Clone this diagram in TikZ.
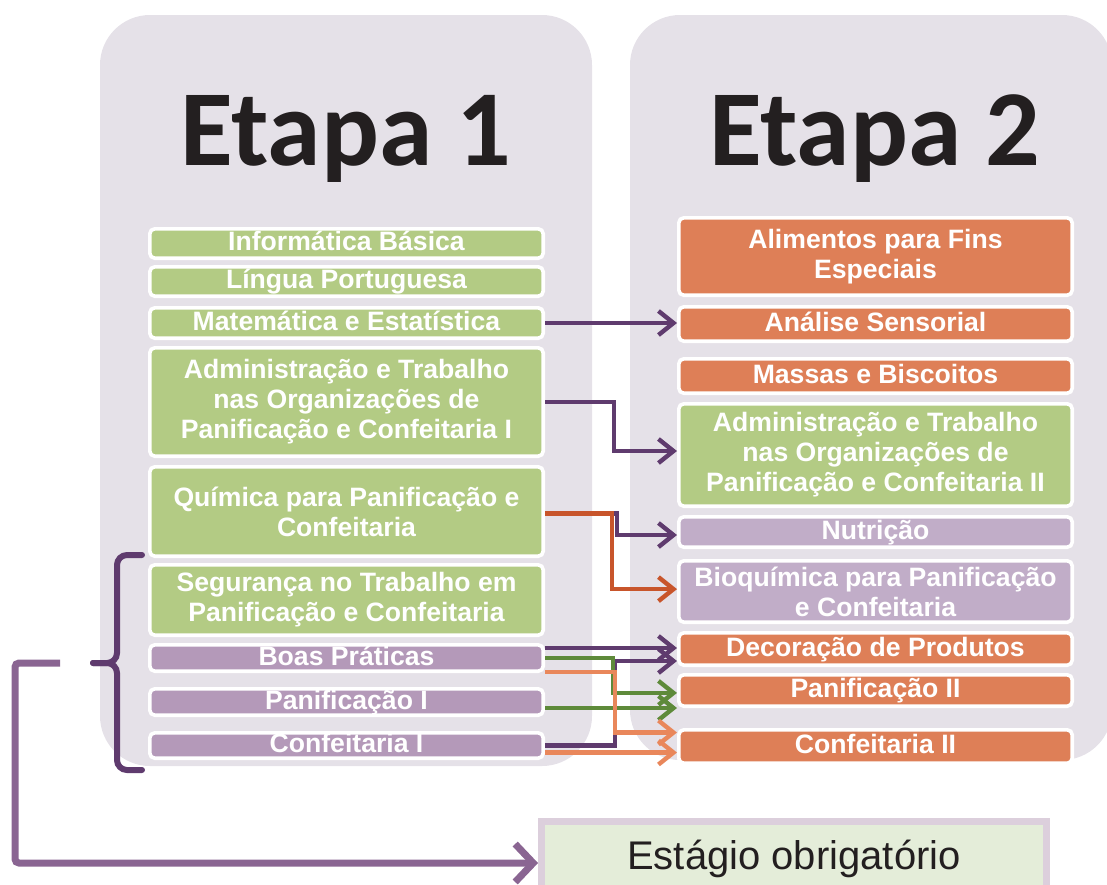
\documentclass[tikz,border=0pt]{standalone}
\usepackage{fontspec}
\setmainfont{Liberation Sans}
\newfontfamily\calfont{Carlito}
\usetikzlibrary{arrows.meta}
\definecolor{panel}{RGB}{229,225,232}
\definecolor{grn}{RGB}{179,203,132}
\definecolor{org}{RGB}{222,127,87}
\definecolor{vio}{RGB}{180,153,185}
\definecolor{lil}{RGB}{193,173,200}
\definecolor{dpur}{RGB}{95,59,110}
\definecolor{mpur}{RGB}{138,101,146}
\definecolor{dgrn}{RGB}{94,138,58}
\definecolor{dorg}{RGB}{200,85,43}
\definecolor{lorg}{RGB}{233,135,91}
\definecolor{ink}{RGB}{35,31,32}
\definecolor{estfill}{RGB}{228,237,217}
\definecolor{estdraw}{RGB}{220,207,220}

\begin{document}
\begin{tikzpicture}[
      x=0.5pt,y=-0.5pt,
      box/.style={rectangle,rounded corners=2.5pt,draw=white,line width=1.8pt,text=white,
        font=\fontsize{13.3}{15}\selectfont\bfseries,align=center,
        minimum width=196.7pt,inner xsep=2pt,inner ysep=0pt},
      G/.style={box,fill=grn},
      O/.style={box,fill=org},
      V/.style={box,fill=vio},
      L/.style={box,fill=lil},
      one/.style={text height=9.8pt,text depth=2.8pt},
      ttl/.style={font=\calfont\bfseries\fontsize{54}{60}\selectfont,text=ink,anchor=base},
      ap/.style={dpur,line width=2.2pt,-{Straight Barb[length=7.5pt,width=12pt]}},
      ag/.style={ap,dgrn},
      ao/.style={ap,lorg},
      ar/.style={ap,dorg},
      brc/.style={dpur,line width=3pt,rounded corners=5pt,line cap=round},
      ab/.style={mpur,line width=3.5pt,rounded corners=2pt,-{Straight Barb[length=9pt,width=19pt]}},
      est/.style={rectangle,draw=estdraw,fill=estfill,line width=3.5pt,text=ink,
        font=\fontsize{20}{24}\selectfont,minimum width=252.5pt,minimum height=41.5pt,
        text height=14pt,text depth=8pt}]
    \clip (0,0) rectangle (1107,884);
    \fill[panel,rounded corners=25pt] (100,15) rectangle (592,766);
    \fill[panel,rounded corners=25pt] (630,15) rectangle (1112,760);
    \node[ttl] (t1) at (346,165) {Etapa 1};
    \node[ttl] (t2) at (875,165) {Etapa 2};
    \node[G,one,minimum height=14.7pt] (ib) at (346.5,243.5) {Informática Básica};
    \node[G,one,minimum height=14.7pt] (lp) at (346.5,281.5) {Língua Portuguesa};
    \node[G,one,minimum height=15.2pt] (me) at (346.5,323) {Matemática e Estatística};
    \node[G,minimum height=54.2pt] (ad1) at (346.5,402) {Administração e Trabalho\\nas Organizações de\\Panificação e Confeitaria I};
    \node[G,minimum height=44.7pt] (qu) at (346.5,511.5) {Química para Panificação e\\Confeitaria};
    \node[G,minimum height=35.2pt] (se) at (346.5,600) {Segurança no Trabalho em\\Panificação e Confeitaria};
    \node[V,one,minimum height=13.2pt] (bp) at (346.5,658) {Boas Práticas};
    \node[V,one,minimum height=13.2pt] (pa1) at (346.5,702) {Panificação I};
    \node[V,one,minimum height=12.7pt] (co1) at (346.5,745.5) {Confeitaria I};
    \node[O,minimum height=38.7pt] (al) at (875.5,256.5) {Alimentos para Fins\\Especiais};
    \node[O,one,minimum height=17.2pt] (an) at (875.5,324) {Análise Sensorial};
    \node[O,one,minimum height=17.2pt] (mb) at (875.5,376) {Massas e Biscoitos};
    \node[G,minimum height=51.2pt] (ad2) at (875.5,455) {Administração e Trabalho\\nas Organizações de\\Panificação e Confeitaria II};
    \node[L,one,minimum height=15.2pt] (nu) at (875.5,532) {Nutrição};
    \node[L,minimum height=30.7pt] (bq) at (875.5,591.5) {Bioquímica para Panificação\\e Confeitaria};
    \node[O,one,minimum height=16.2pt] (de) at (875.5,649) {Decoração de Produtos};
    \node[O,one,minimum height=15.7pt] (pa2) at (875.5,690.5) {Panificação II};
    \node[O,one,minimum height=16.7pt] (co2) at (875.5,746.5) {Confeitaria II};
    \node[est] (es) at (794,863) {Estágio obrigatório};
    \draw[ap] (me.east) -- (me.east -| an.west);
    \draw[ap] (ad1.east) -- ++(69,0) |- ([yshift=2pt]ad2.west);
    \draw[ap] ([yshift=-1pt]qu.east) -- ++(72,0) |- ([yshift=-1.5pt]nu.west);
    \draw[ar] ([yshift=-1pt]qu.east) -- ++(67,0) |- ([yshift=1.2pt]bq.west);
    \draw[ap] ([yshift=5pt]bp.east) -- ([yshift=5pt]bp.east -| de.west);
    \draw[ap] (co1.east) -- ++(70,0) |- ([yshift=-6pt]de.west);
    \draw[ag] (bp.east) -- ++(68,0) |- ([yshift=-1.2pt]pa2.west);
    \draw[ag] ([yshift=-3pt]pa1.east) -- ([yshift=-3pt]pa1.east -| pa2.west);
    \draw[ao] ([yshift=-7pt]bp.east) -- ++(70,0) |- ([yshift=7pt]co2.west);
    \draw[ao] ([yshift=-3.5pt]co1.east) -- ([yshift=-3.5pt]co1.east -| co2.west);
    \draw[brc] (142,555) -- (117,555) -- (117,663) -- (93,663);
    \draw[brc] (93,663) -- (117,663) -- (117,770) -- (142,770);
    \coordinate (bk) at (60,663);
    \draw[ab] (bk) -- (15,663) |- (es.west);
  \end{tikzpicture}
\end{document}
